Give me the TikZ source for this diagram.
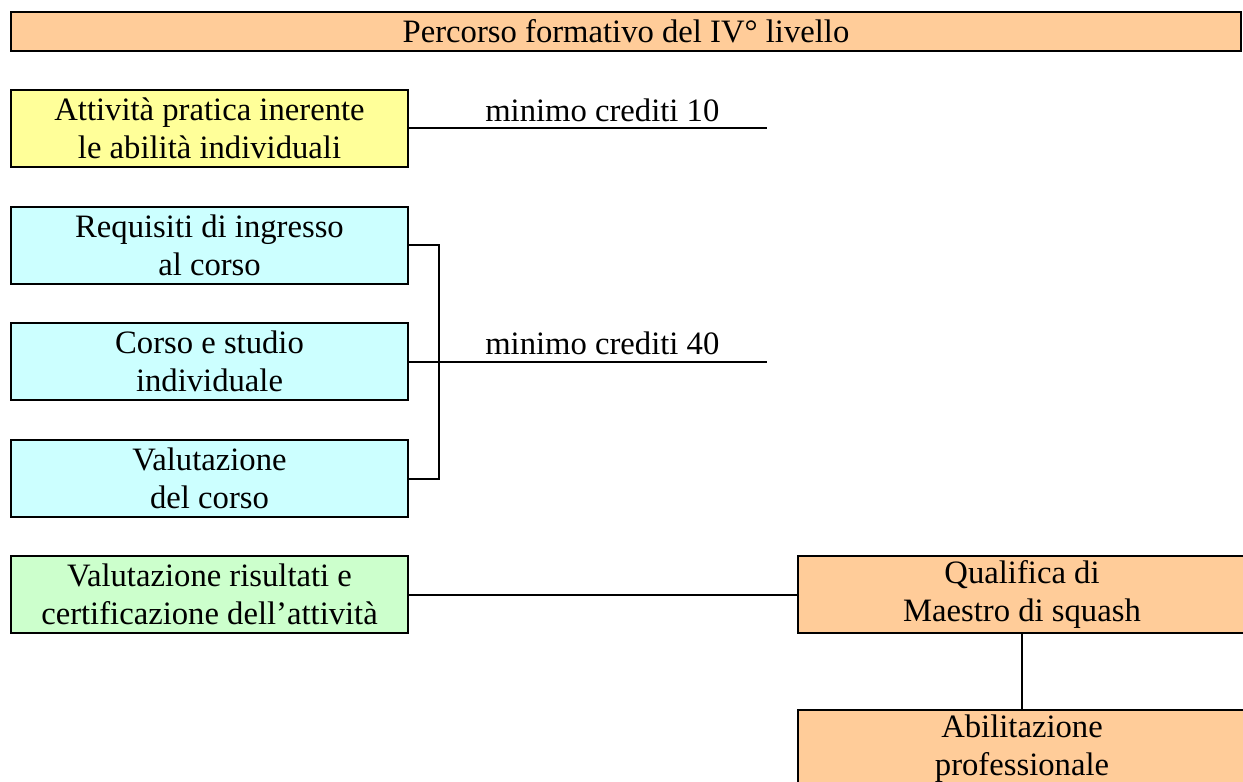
\documentclass[tikz,border=0pt]{standalone}
\usepackage{fontspec}
\setmainfont{Liberation Serif}

\definecolor{peach}{HTML}{FFCC99}
\definecolor{lemon}{HTML}{FFFF99}
\definecolor{sky}{HTML}{CCFFFF}
\definecolor{mint}{HTML}{CCFFCC}

\begin{document}
\begin{tikzpicture}[x=0.75pt,y=0.75pt,yscale=-1,
  box/.style={draw=black,line width=1.5pt,align=center,inner sep=0pt,
    minimum width=297.75pt,minimum height=57.75pt,
    font=\fontsize{24.5}{28.5}\selectfont},
  link/.style={line width=1.5pt,black},
  credit/.style={above,inner sep=4pt,font=\fontsize{24.5}{28.5}\selectfont}]
\useasboundingbox (0,0) rectangle (1243,782);

% titolo
\node [box,fill=peach,minimum width=922.5pt,minimum height=29.25pt] (titolo) at (626, 31.5) {Percorso formativo del IV° livello};

% colonna sinistra
\node [box,fill=lemon] (pratica) at (209.5, 128) {Attività pratica inerente\\le abilità individuali};
\node [box,fill=sky] (requisiti) at (209.5, 245) {Requisiti di ingresso\\al corso};
\node [box,fill=sky] (corso) at (209.5, 361.5) {Corso e studio\\individuale};
\node [box,fill=sky] (valcorso) at (209.5, 478.5) {Valutazione\\del corso};
\node [box,fill=mint] (certif) at (209.5, 594.5) {Valutazione risultati e\\certificazione dell’attività};

% colonna destra
\node [box,fill=peach,minimum width=336pt] (qualifica) at (1022, 594.5) {Qualifica di\\Maestro di squash};
\node [box,fill=peach,minimum width=336pt] (abilit) at (1022, 748.5) {Abilitazione\\professionale};

% linee
\coordinate (c10) at (767, 128);
\coordinate (c40) at (767, 361.5);
\coordinate (brk) at (439, 478.5);

\draw [link] (pratica.east) -- node [credit,pos=0.54] {minimo crediti 10} (c10);
\draw [link] (requisiti.east) -| (brk) |- (valcorso.east);
\draw [link] (corso.east) -- node [credit,pos=0.54] {minimo crediti 40} (c40);
\draw [link] (certif.east) -- (qualifica.west);
\draw [link] (qualifica) -- (abilit);

\end{tikzpicture}
\end{document}
